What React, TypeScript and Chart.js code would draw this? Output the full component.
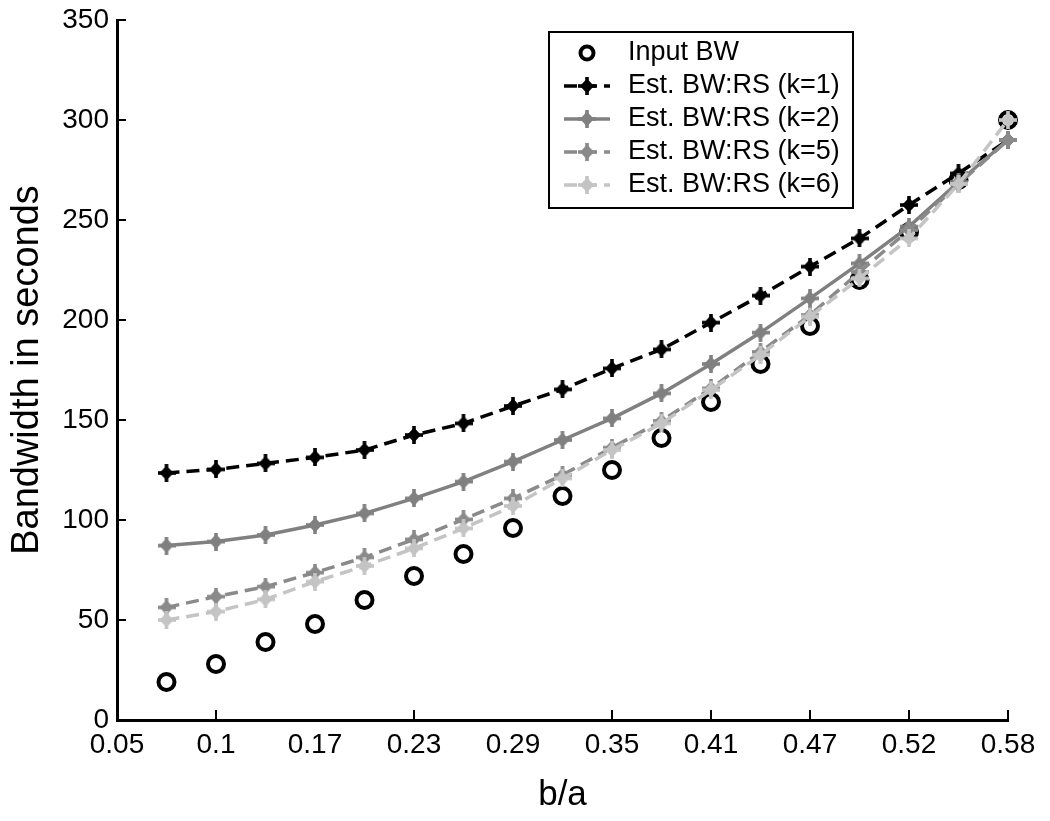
import React, { useEffect, useRef } from "react";
import { Chart, registerables } from "chart.js";
Chart.register(...registerables);

const xLabels = ["0.05", "0.075", "0.1", "0.135", "0.17", "0.2", "0.23", "0.26", "0.29", "0.32", "0.35", "0.38", "0.41", "0.44", "0.47", "0.495", "0.52", "0.55", "0.58"];
const inputBW = [null, 19, 28, 39, 48, 60, 72, 83, 96, 112, 125, 141, 159, 178, 197, 220, 244, 270, 300];
const estK1 = [null, 123.5, 125.3, 128.3, 131.3, 135, 142.5, 148.3, 157, 165.3, 175.8, 185.3, 198.7, 212.2, 226.7, 240.8, 257.5, 273.3, 290];
const estK2 = [null, 87.2, 89.2, 92.5, 97.5, 103.3, 110.8, 119.2, 129.2, 140, 150.8, 163.3, 178, 193.7, 210.8, 228.3, 246.7, 269, 290];
const estK5 = [null, 56.3, 61.7, 66.7, 73.7, 81.3, 90.3, 100.3, 110.8, 122.5, 136.2, 149.5, 165.8, 184, 202.5, 224, 245, 268, 290];
const estK6 = [null, 50, 54.2, 60.3, 69.2, 77, 85.8, 95.8, 107, 120.8, 135, 148.3, 165, 182.5, 201.7, 220.8, 240.8, 268, 300];
const yTickValues = [0, 50, 100, 150, 200, 250, 300, 350];
const xTickMarkLabels = ["0.1", "0.23", "0.35", "0.41", "0.47", "0.52", "0.58"];
const seriesNames = ["Input BW", "Est. BW:RS (k=1)", "Est. BW:RS (k=2)", "Est. BW:RS (k=5)", "Est. BW:RS (k=6)"];

const FONT = "'Liberation Sans', Arial, sans-serif";

function makeMarker(color: string): HTMLCanvasElement {
  const c = document.createElement("canvas");
  c.width = 18;
  c.height = 18;
  const g = c.getContext("2d")!;
  g.fillStyle = color;
  g.beginPath();
  g.moveTo(9, 1.5);
  g.lineTo(16, 9);
  g.lineTo(9, 16.5);
  g.lineTo(2, 9);
  g.closePath();
  g.fill();
  g.fillRect(7.2, 0, 3.6, 18);
  g.fillRect(0, 7.2, 18, 3.6);
  return c;
}

const inwardTicks = {
  id: "inwardTicks",
  afterDraw(chart: any) {
    const { ctx, chartArea, scales } = chart;
    const x = scales.x;
    const y = scales.y;
    ctx.save();
    ctx.strokeStyle = "#000";
    ctx.lineWidth = 2;
    yTickValues.forEach((v) => {
      const py = Math.round(y.getPixelForValue(v));
      ctx.beginPath();
      ctx.moveTo(chartArea.left, py);
      ctx.lineTo(chartArea.left + 9, py);
      ctx.stroke();
    });
    xTickMarkLabels.forEach((lbl) => {
      const px = Math.round(x.getPixelForValue(xLabels.indexOf(lbl)));
      ctx.beginPath();
      ctx.moveTo(px, chartArea.bottom);
      ctx.lineTo(px, chartArea.bottom - 10);
      ctx.stroke();
    });
    ctx.restore();
  },
};

const boxLegend = {
  id: "boxLegend",
  afterDraw(chart: any) {
    const { ctx } = chart;
    const left = 549, top = 32, right = 853, bottom = 208;
    ctx.save();
    ctx.fillStyle = "#fff";
    ctx.fillRect(left, top, right - left, bottom - top);
    ctx.strokeStyle = "#000";
    ctx.lineWidth = 2;
    ctx.strokeRect(left, top, right - left, bottom - top);
    const rows = [53, 86, 119, 152, 185];
    chart.data.datasets.forEach((ds: any, i: number) => {
      const ry = rows[i];
      if (ds.showLine !== false) {
        ctx.beginPath();
        ctx.setLineDash(ds.borderDash || []);
        ctx.strokeStyle = ds.borderColor;
        ctx.lineWidth = ds.borderWidth;
        ctx.moveTo(564, ry);
        ctx.lineTo(610, ry);
        ctx.stroke();
        ctx.setLineDash([]);
        ctx.drawImage(ds.pointStyle, 587 - 9, ry - 9);
      } else {
        ctx.beginPath();
        ctx.strokeStyle = ds.pointBorderColor;
        ctx.lineWidth = ds.pointBorderWidth;
        ctx.arc(587, ry, 6.5, 0, Math.PI * 2);
        ctx.stroke();
      }
      ctx.fillStyle = "#000";
      ctx.font = `27px ${FONT}`;
      ctx.textBaseline = "middle";
      ctx.textAlign = "left";
      ctx.fillText(seriesNames[i], 628, ry);
    });
    ctx.restore();
  },
};

export default function App() {
  const ref = useRef<HTMLCanvasElement>(null);
  useEffect(() => {
    const lineDs = (label: string, data: any[], color: string, dash: number[], order: number) => ({
      label,
      data,
      borderColor: color,
      backgroundColor: color,
      borderWidth: 3.5,
      borderDash: dash,
      pointStyle: makeMarker(color),
      pointRadius: 9,
      showLine: true,
      tension: 0,
      order,
    });
    const chart = new Chart(ref.current!, {
      type: "line",
      data: {
        labels: xLabels,
        datasets: [
          {
            label: seriesNames[0],
            data: inputBW,
            showLine: false,
            pointStyle: "circle",
            pointRadius: 8,
            pointBorderWidth: 4,
            pointBorderColor: "#000",
            pointBackgroundColor: "rgba(0,0,0,0)",
            borderColor: "#000",
            backgroundColor: "rgba(0,0,0,0)",
            order: 10,
          } as any,
          lineDs(seriesNames[1], estK1, "#000000", [13, 7], 4),
          lineDs(seriesNames[2], estK2, "#808080", [], 3),
          lineDs(seriesNames[3], estK5, "#8a8a8a", [13, 7], 2),
          lineDs(seriesNames[4], estK6, "#c4c4c4", [13, 7], 1),
        ],
      },
      options: {
        responsive: false,
        animation: false,
        events: [],
        layout: { padding: { top: 20, right: 42, left: 0, bottom: 0 } },
        plugins: { legend: { display: false }, tooltip: { enabled: false } },
        scales: {
          x: {
            type: "category",
            grid: { display: false, drawTicks: false },
            border: { display: true, color: "#000", width: 3 },
            ticks: {
              autoSkip: false,
              maxRotation: 0,
              color: "#000",
              font: { family: FONT, size: 28 },
              padding: 8,
              callback: (_v: any, i: number) => (i % 2 === 0 ? xLabels[i] : ""),
            },
            title: {
              display: true,
              text: "b/a",
              color: "#000",
              font: { family: FONT, size: 35 },
              padding: { top: 0, bottom: 5 },
            },
            afterFit: (s: any) => {
              s.height = 101;
            },
          },
          y: {
            min: 0,
            max: 350,
            grid: { display: false, drawTicks: false },
            border: { display: true, color: "#000", width: 3 },
            ticks: {
              stepSize: 50,
              color: "#000",
              font: { family: FONT, size: 28 },
              padding: 8,
            },
            title: {
              display: true,
              text: "Bandwidth in seconds",
              color: "#000",
              font: { family: FONT, size: 38 },
              padding: { top: 5, bottom: 0 },
            },
            afterFit: (s: any) => {
              s.width = 117;
              s.paddingTop = 0;
              s.paddingBottom = 0;
            },
          },
        },
      },
      plugins: [inwardTicks, boxLegend],
    });
    return () => chart.destroy();
  }, []);
  return (
    <div style={{ position: "absolute", left: 0, top: 0, width: 1050, height: 821, background: "#fff" }}>
      <canvas ref={ref} width={1050} height={821} style={{ width: 1050, height: 821, display: "block" }} />
    </div>
  );
}
